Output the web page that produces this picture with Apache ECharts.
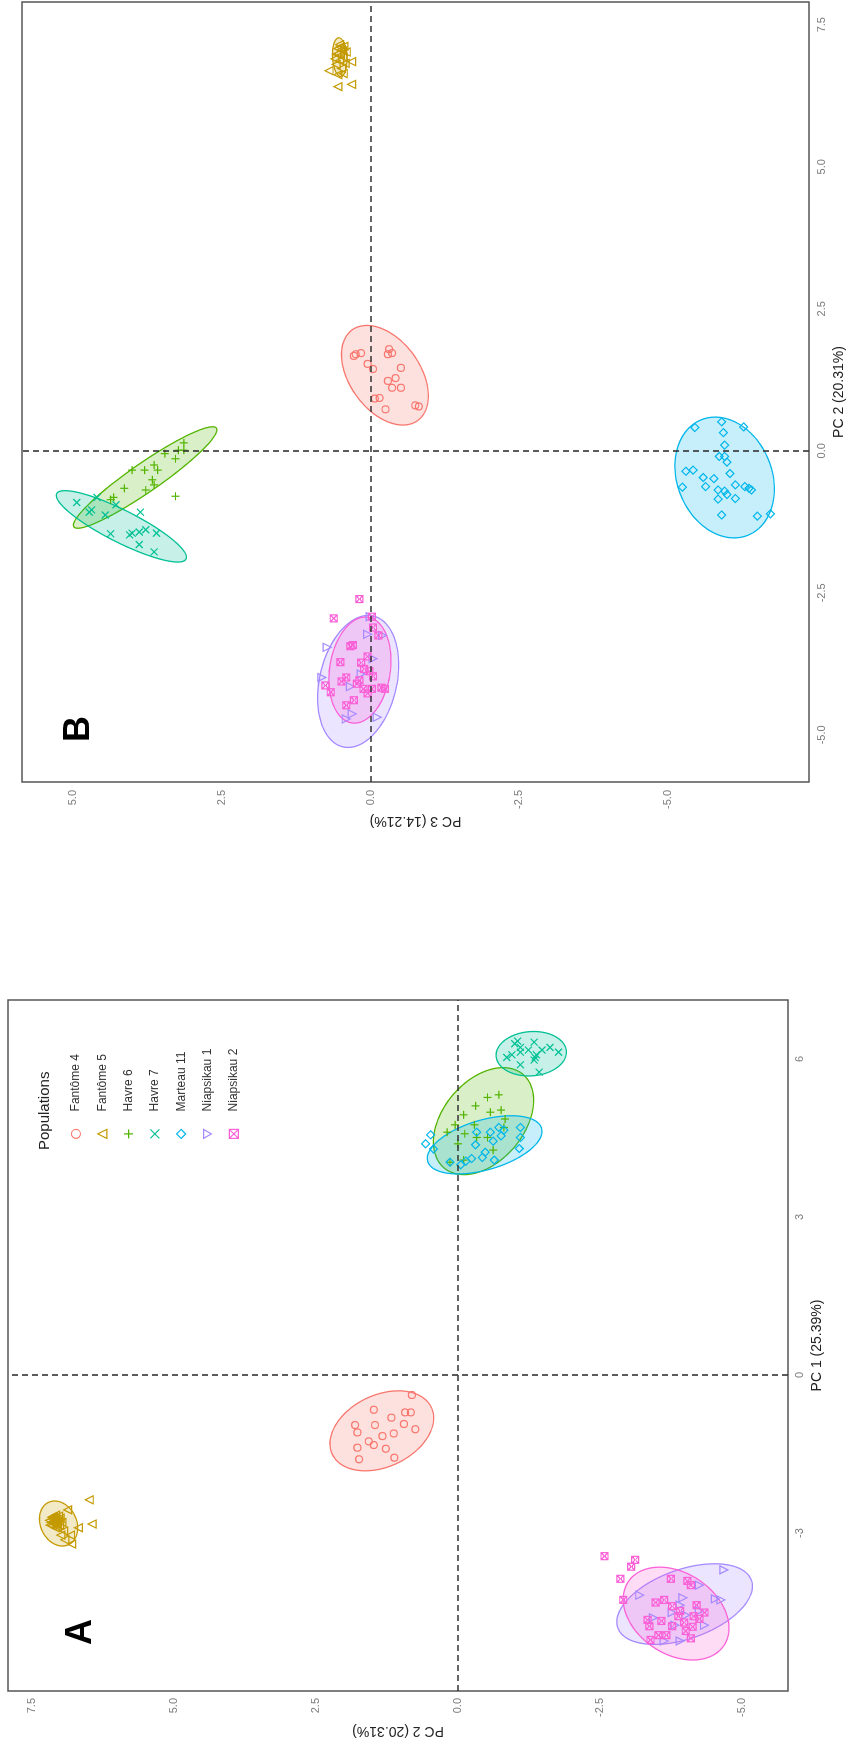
<!DOCTYPE html>
<html>
<head>
<meta charset="utf-8">
<script src="https://cdn.jsdelivr.net/npm/echarts@6/dist/echarts.min.js"></script>
<style>
  html, body { margin: 0; padding: 0; background: #fff; width: 851px; height: 1744px; overflow: hidden; }
  /* the figure is laid out landscape and turned a quarter turn counter-clockwise */
  #chart { position: absolute; left: 0; top: 0; width: 1744px; height: 851px;
           transform-origin: 0 0; transform: translate(0, 1744px) rotate(-90deg); }
</style>
</head>
<body>
<div id="chart"></div>
<script>
// ---------- populations ----------
const populations = ['Fantôme 4', 'Fantôme 5', 'Havre 6', 'Havre 7', 'Marteau 11', 'Niapsikau 1', 'Niapsikau 2'];

// ---------- panel A : [PC1, PC2] ----------
const fantome4A = [[-0.38,0.81],[-0.71,0.83],[-0.71,0.93],[-0.81,1.17],[-0.66,1.48],[-0.95,1.81],[-1.09,1.77],[-0.93,0.95],[-1.03,0.75],[-0.95,1.46],[-1.16,1.33],[-1.11,1.13],[-1.26,1.57],[-1.33,1.48],[-1.38,1.77],[-1.40,1.27],[-1.60,1.74],[-1.57,1.12]];
const fantome5A = [[-2.71,7.11],[-2.75,7.06],[-2.80,7.16],[-2.85,7.01],[-2.90,7.09],[-2.74,7.13],[-2.68,7.03],[-2.80,6.97],[-2.85,7.18],[-2.83,7.07],[-2.78,7.10],[-2.72,7.00],[-2.88,7.05],[-2.76,7.19],[-2.66,7.08],[-2.70,7.15],[-2.77,7.02],[-2.82,7.12],[-2.73,7.08],[-2.86,7.14],[-2.79,7.05],[-2.69,7.12],[-2.56,6.87],[-3.04,6.82],[-3.13,6.92],[-3.21,6.80],[-2.90,6.68],[-3.04,6.99],[-2.96,6.94],[-2.37,6.49],[-2.83,6.44]];
const havre6A = [[5.32,-0.72],[5.27,-0.52],[5.11,-0.31],[4.99,-0.57],[4.86,-0.83],[4.94,-0.10],[4.75,0.05],[4.75,-0.29],[4.58,-0.12],[4.51,-0.33],[4.39,0.00],[4.70,-0.81],[4.51,-0.52],[4.04,0.14],[4.08,-0.10],[4.27,-0.62],[5.03,-0.76],[4.61,0.19]];
const havre7A = [[6.03,-0.86],[6.34,-1.05],[6.22,-1.10],[6.32,-1.34],[6.17,-1.24],[6.08,-1.38],[6.22,-1.62],[6.13,-1.77],[5.98,-1.34],[5.89,-1.10],[5.75,-1.43],[6.29,-1.00],[6.03,-1.36],[6.08,-0.95],[6.17,-1.48],[6.13,-1.10]];
const marteau11A = [[4.39,0.57],[4.56,0.48],[4.29,0.43],[4.04,0.14],[3.99,-0.05],[4.06,-0.14],[4.61,-0.33],[4.37,-0.31],[4.23,-0.48],[4.61,-0.57],[4.44,-0.62],[4.70,-0.72],[4.54,-0.76],[4.65,-0.81],[4.70,-1.10],[4.51,-1.10],[4.30,-1.08],[4.08,-0.64],[4.13,-0.43],[4.11,-0.24]];
const niapsikau1A = [[-4.18,-3.20],[-4.23,-3.96],[-4.37,-3.91],[-3.99,-4.25],[-3.70,-4.68],[-4.27,-4.63],[-4.25,-4.53],[-4.61,-3.44],[-4.75,-3.82],[-5.05,-3.91],[-4.56,-4.01],[-4.48,-4.25],[-5.05,-3.63],[-4.51,-3.77],[-4.75,-4.34]];
const niapsikau2A = [[-3.44,-2.58],[-3.64,-3.05],[-3.51,-3.12],[-3.87,-2.86],[-4.27,-2.91],[-3.87,-3.75],[-3.91,-4.04],[-3.99,-4.10],[-4.32,-3.48],[-4.27,-3.63],[-4.39,-3.77],[-4.48,-3.91],[-4.37,-4.20],[-4.51,-4.34],[-4.58,-4.15],[-4.65,-3.34],[-4.77,-3.37],[-4.67,-3.58],[-4.77,-3.77],[-4.70,-3.98],[-4.86,-4.01],[-4.78,-4.13],[-4.63,-4.25],[-4.94,-3.67],[-4.94,-3.53],[-5.03,-3.39],[-5.00,-4.10],[-4.58,-3.88]];

// ---------- panel B : [PC2, PC3] ----------
const fantome4B = [[1.70,0.25],[1.72,0.16],[1.67,0.28],[1.79,-0.31],[1.72,-0.36],[1.70,-0.29],[1.53,0.05],[1.44,-0.04],[1.46,-0.51],[1.23,-0.29],[1.28,-0.42],[1.11,-0.36],[1.11,-0.51],[0.92,-0.07],[0.93,-0.15],[0.73,-0.25],[0.80,-0.75],[0.78,-0.81]];
const fantome5B = [[7.15,0.52],[7.06,0.49],[6.99,0.55],[6.93,0.46],[6.87,0.52],[6.82,0.43],[6.80,0.58],[6.73,0.49],[7.02,0.41],[6.90,0.60],[7.11,0.51],[7.08,0.55],[7.04,0.47],[6.96,0.51],[7.12,0.45],[6.98,0.57],[6.85,0.32],[6.69,0.70],[6.62,0.55],[6.64,0.46],[6.41,0.55],[6.45,0.32]];
const havre6B = [[0.14,3.14],[0.01,3.23],[-0.14,3.28],[-0.05,3.46],[-0.25,3.64],[-0.34,3.80],[-0.34,3.58],[-0.34,4.01],[-0.51,3.67],[-0.60,3.64],[-0.69,3.78],[-0.66,4.14],[-0.82,4.32],[-0.86,4.37],[-0.80,3.28],[0.01,3.14]];
const havre7B = [[-0.91,4.94],[-1.08,4.73],[-1.04,4.69],[-1.13,4.46],[-0.82,4.60],[-1.46,4.37],[-1.48,4.05],[-1.45,4.01],[-1.43,3.89],[-1.39,3.78],[-1.45,3.60],[-1.65,3.89],[-1.78,3.64],[-1.08,3.87],[-0.95,4.28]];
const marteau11B = [[0.41,-5.45],[0.51,-5.90],[0.42,-6.27],[0.32,-5.93],[0.10,-5.95],[-0.10,-5.86],[-0.10,-5.95],[-0.20,-5.99],[-0.40,-6.04],[-0.36,-5.30],[-0.34,-5.42],[-0.47,-5.59],[-0.49,-5.77],[-0.63,-5.63],[-0.64,-5.24],[-0.69,-5.84],[-0.71,-5.95],[-0.60,-6.13],[-0.63,-6.29],[-0.66,-6.36],[-0.69,-6.40],[-0.85,-5.84],[-0.77,-5.99],[-0.84,-6.13],[-1.13,-5.90],[-1.15,-6.50],[-1.11,-6.72]];
const niapsikau1B = [[-2.92,0.01],[-3.23,0.05],[-3.25,-0.20],[-3.46,0.73],[-3.99,0.82],[-4.15,0.34],[-4.63,0.31],[-4.72,0.41],[-4.69,-0.11],[-3.66,-0.04],[-3.93,0.16]];
const niapsikau2B = [[-2.61,0.19],[-2.95,0.62],[-2.92,-0.02],[-3.11,-0.04],[-3.25,-0.13],[-3.42,0.30],[-3.44,0.34],[-3.72,0.51],[-3.62,0.05],[-3.73,0.16],[-3.84,0.11],[-3.88,0.02],[-3.97,-0.04],[-4.04,0.19],[-4.10,0.23],[-4.19,0.12],[-4.19,-0.02],[-4.17,-0.18],[-4.19,-0.24],[-3.99,0.41],[-4.06,0.49],[-4.13,0.76],[-4.25,0.67],[-4.39,0.28],[-4.48,0.41],[-4.27,0.05]];

// ---------- 95% ellipses : [centre x, centre y, semi-major, semi-minor, angle in degrees] ----------
const ellipsesA = [[-1.06,1.34,0.98,0.67,-60],[-2.82,7.03,0.44,0.32,20],[4.82,-0.45,1.13,0.73,-35],[6.10,-1.29,0.62,0.42,95],[4.37,-0.47,1.05,0.47,-72],[-4.35,-3.99,1.26,0.65,-68],[-4.53,-3.84,1.04,0.75,50]];
const ellipsesB = [[1.33,-0.24,0.97,0.60,33],[6.93,0.52,0.34,0.12,3],[-0.47,3.79,1.48,0.25,-54],[-1.33,4.19,1.23,0.28,62],[-0.47,-5.95,1.09,0.80,19],[-4.06,0.21,1.18,0.65,-12],[-3.86,0.18,0.94,0.51,-8]];

// ---------- axis ticks ----------
const pc1Ticks = [-3, 0, 3, 6];
const pc2Ticks = [-5, -2.5, 0, 2.5, 5, 7.5];
const pc3Ticks = [-5, -2.5, 0, 2.5, 5];

const pointsA = [fantome4A, fantome5A, havre6A, havre7A, marteau11A, niapsikau1A, niapsikau2A];
const pointsB = [fantome4B, fantome5B, havre6B, havre7B, marteau11B, niapsikau1B, niapsikau2B];

// ---------- styling ----------
const palette = ['#F8766D', '#C49A00', '#53B400', '#00C094', '#00B6EB', '#A58AFF', '#FB61D7'];
const shapes = [
  'circle',
  'triangle',
  'path://M5,0L5,10M0,5L10,5',
  'path://M0,0L10,10M10,0L0,10',
  'diamond',
  'path://M0,0L10,0L5,8.66Z',
  'path://M0,0L10,0L10,10L0,10ZM0,0L10,10M10,0L0,10'
];
const shapeSizes = [7, 8, 8, 7, 8, 8, 7];
const FONT = '"Liberation Sans", Arial, Helvetica, sans-serif';

function rgba(hex, a) {
  const n = parseInt(hex.slice(1), 16);
  return `rgba(${(n >> 16) & 255},${(n >> 8) & 255},${n & 255},${a})`;
}

function ellipseSeries(params, idx, xi, yi) {
  const color = palette[idx];
  return {
    type: 'custom', name: populations[idx] + ' ellipse',
    xAxisIndex: xi, yAxisIndex: yi, z: 1, silent: true,
    data: [params], encode: { x: 0, y: 1 },
    renderItem: (p, api) => {
      const cx = api.value(0), cy = api.value(1), a = api.value(2), b = api.value(3);
      const t = api.value(4) * Math.PI / 180;
      const pts = [];
      for (let i = 0; i < 120; i++) {
        const s = i / 120 * 2 * Math.PI;
        const x = cx + a * Math.cos(s) * Math.cos(t) - b * Math.sin(s) * Math.sin(t);
        const y = cy + a * Math.cos(s) * Math.sin(t) + b * Math.sin(s) * Math.cos(t);
        pts.push(api.coord([x, y]));
      }
      return { type: 'polygon', shape: { points: pts },
               style: { fill: rgba(color, 0.22), stroke: color, lineWidth: 1.3 } };
    }
  };
}

function pointSeries(data, idx, xi, yi) {
  return {
    type: 'scatter', name: populations[idx], xAxisIndex: xi, yAxisIndex: yi, z: 3,
    data: data, symbol: shapes[idx], symbolSize: shapeSizes[idx],
    itemStyle: { color: 'rgba(0,0,0,0)', borderColor: palette[idx], borderWidth: 1.2, opacity: 1 },
    emphasis: { disabled: true }
  };
}

const zeroLines = {
  silent: true, symbol: 'none', label: { show: false },
  lineStyle: { type: [6, 4], color: '#333', width: 1.6 },
  data: [{ xAxis: 0 }, { yAxis: 0 }]
};

const series = [];
ellipsesA.forEach((e, i) => series.push(ellipseSeries(e, i, 0, 0)));
ellipsesB.forEach((e, i) => series.push(ellipseSeries(e, i, 1, 1)));
pointsA.forEach((d, i) => series.push(pointSeries(d, i, 0, 0)));
pointsB.forEach((d, i) => series.push(pointSeries(d, i, 1, 1)));
series.push({ type: 'scatter', xAxisIndex: 0, yAxisIndex: 0, data: [], z: 2, markLine: zeroLines });
series.push({ type: 'scatter', xAxisIndex: 1, yAxisIndex: 1, data: [], z: 2, markLine: zeroLines });

const tickLabel = { color: '#7a7a7a', fontSize: 11, fontFamily: FONT };
const axisName = { color: '#222', fontSize: 14, fontFamily: FONT };

function valueAxis(opts) {
  return Object.assign({
    type: 'value', nameLocation: 'middle', nameTextStyle: axisName,
    axisLine: { show: false }, axisTick: { show: false }, splitLine: { show: false }
  }, opts);
}

const option = {
  animation: false,
  backgroundColor: '#fff',
  textStyle: { fontFamily: FONT },
  grid: [
    { left: 53, top: 8, width: 691, height: 780, show: true, borderColor: '#555', borderWidth: 1.5, backgroundColor: 'transparent' },
    { left: 962, top: 22, width: 780, height: 790, show: true, borderColor: '#555', borderWidth: 1.5, backgroundColor: 'transparent' }
  ],
  xAxis: [
    valueAxis({ gridIndex: 0, min: -6.0, max: 7.12, name: 'PC 1 (25.39%)', nameGap: 21,
      axisLabel: Object.assign({ margin: 6, customValues: pc1Ticks, formatter: v => String(v) }, tickLabel) }),
    valueAxis({ gridIndex: 1, min: -5.83, max: 7.90, name: 'PC 2 (20.31%)', nameGap: 22,
      axisLabel: Object.assign({ margin: 7, customValues: pc2Ticks, formatter: v => v.toFixed(1) }, tickLabel) })
  ],
  yAxis: [
    valueAxis({ gridIndex: 0, min: -5.81, max: 7.92, name: 'PC 2 (20.31%)', nameGap: 33,
      axisLabel: Object.assign({ margin: 7, customValues: pc2Ticks, formatter: v => v.toFixed(1) }, tickLabel) }),
    valueAxis({ gridIndex: 1, min: -7.37, max: 5.86, name: 'PC 3 (14.21%)', nameGap: 32,
      axisLabel: Object.assign({ margin: 8, customValues: pc3Ticks, formatter: v => v.toFixed(1) }, tickLabel) })
  ],
  legend: {
    orient: 'vertical', left: 600, top: 65,
    itemWidth: 9, itemHeight: 9, itemGap: 14.3,
    selectedMode: false,
    textStyle: { color: '#333', fontSize: 12, fontFamily: FONT, padding: [0, 0, 0, 13] },
    data: populations.map((name, i) => ({
      name, icon: shapes[i],
      itemStyle: { color: 'rgba(0,0,0,0)', borderColor: palette[i], borderWidth: 1.2 }
    }))
  },
  graphic: [
    { type: 'text', left: 594, top: 37, style: { text: 'Populations', fill: '#222', font: `15px ${FONT}` } },
    { type: 'text', x: 112, y: 81, style: { text: 'A', fill: '#000', font: `bold 36px ${FONT}`, align: 'center', verticalAlign: 'middle' } },
    { type: 'text', x: 1015, y: 79, style: { text: 'B', fill: '#000', font: `bold 36px ${FONT}`, align: 'center', verticalAlign: 'middle' } }
  ],
  series
};

const chart = echarts.init(document.getElementById('chart'), null, { renderer: 'canvas' });
chart.setOption(option);
</script>
</body>
</html>
